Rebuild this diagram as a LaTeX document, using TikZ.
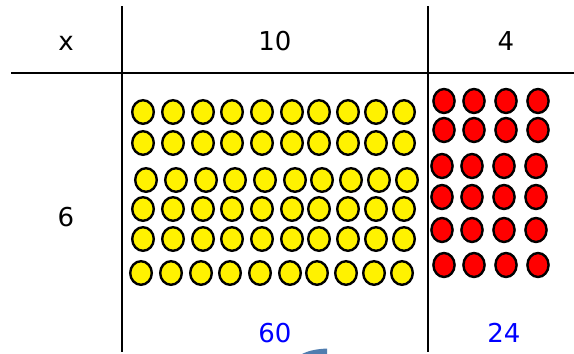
\documentclass[tikz,border=0pt]{standalone}
\usepackage{fontspec}
\setmainfont{DejaVu Sans}
\usetikzlibrary{positioning}

\begin{document}
\begin{tikzpicture}[
  x=1pt, y=-1pt,
  rule/.style={line width=2pt},
  head/.style={anchor=base, font=\fontsize{26}{30}\selectfont},
  total/.style={head, text=blue},
  bead/.style={draw=black, line width=2.4pt}
]
\useasboundingbox (0,0) rectangle (574,354);
% table lines
\coordinate (colA top) at (122,6);
\coordinate (colA bot) at (122,352);
\coordinate (colB top) at (428,6);
\coordinate (colB bot) at (428,352);
\coordinate (row left) at (11,73);
\coordinate (row right) at (574,73);
\draw[rule] (colA top) -- (colA bot);
\draw[rule] (colB top) -- (colB bot);
\draw[rule] (row left) -- (row right);
% labels
\node[head] (times) at (66,50) {x};
\node[head] (tens) at (275,50) {10};
\node[head] (ones) at (506,50) {4};
\node[head] (six) at (66,226) {6};
\node[total] (sixty) at (275,342) {60};
\node[total] (twentyfour) at (504,342) {24};
% yellow beads, 10 by 6
\foreach \y/\dx in {112/0,143/0,180/3,209/0,239/0,273/-2}
  \foreach \x in {143,173,203,232,262,292,319,348,376,404}
    \filldraw[bead, fill=yellow] (\x+\dx,\y) ellipse [x radius=10.8pt, y radius=11.8pt];
% red beads, 4 by 6
\foreach \y/\dx in {101/0,130/0,166/-2,197/-2,230/-2,265/0}
  \foreach \x in {444,474,506,538}
    \filldraw[bead, fill=red] (\x+\dx,\y) ellipse [x radius=10.6pt, y radius=12pt];
% cut-off shape at the bottom edge
\fill[color={rgb,255:red,80;green,125;blue,175}] (302,354) .. controls (310,350) and (318,349) .. (327,348.5) -- (327,354) -- cycle;
\end{tikzpicture}
\end{document}
